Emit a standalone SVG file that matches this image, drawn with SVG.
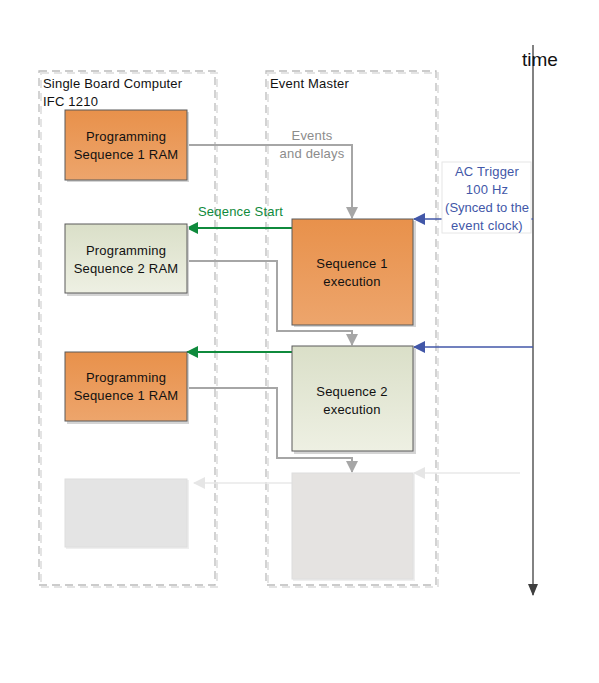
<svg xmlns="http://www.w3.org/2000/svg" width="599" height="683" viewBox="0 0 599 683">
<defs>
<linearGradient id="gOr" x1="0" y1="0" x2="0" y2="1"><stop offset="0" stop-color="#e8914b"/><stop offset="1" stop-color="#eda56c"/></linearGradient>
<linearGradient id="gGr" x1="0" y1="0" x2="0" y2="1"><stop offset="0" stop-color="#dadfc8"/><stop offset="1" stop-color="#eef0e3"/></linearGradient>
<marker id="aGray" markerWidth="12" markerHeight="12" refX="11" refY="6" orient="auto" markerUnits="userSpaceOnUse"><path d="M0,0 L12,6 L0,12 z" fill="#a6a6a6"/></marker>
<marker id="aGreen" markerWidth="12" markerHeight="12" refX="11" refY="6" orient="auto" markerUnits="userSpaceOnUse"><path d="M0,0 L12,6 L0,12 z" fill="#0f8a3c"/></marker>
<marker id="aBlue" markerWidth="12" markerHeight="12" refX="11" refY="6" orient="auto" markerUnits="userSpaceOnUse"><path d="M0,0 L12,6 L0,12 z" fill="#4257a8"/></marker>
<marker id="aLight" markerWidth="12" markerHeight="12" refX="11" refY="6" orient="auto" markerUnits="userSpaceOnUse"><path d="M0,0 L12,6 L0,12 z" fill="#e6e6e6"/></marker>
<marker id="aTime" markerWidth="12" markerHeight="10" refX="11" refY="5" orient="auto" markerUnits="userSpaceOnUse"><path d="M0,0 L12,5 L0,10 z" fill="#3f3f3f"/></marker>
</defs>
<style>
text{font-family:"Liberation Sans",Arial,sans-serif;font-size:13px;letter-spacing:0.2px;fill:#111}
.c{text-anchor:middle}
.cont{fill:none;stroke:#bcbcbc;stroke-width:1.3;stroke-dasharray:8,5}
.sh{fill:#d4d4d4}
.box{stroke:#5a5a5a;stroke-width:1}
.gl{fill:none;stroke:#a6a6a6;stroke-width:2}
.blue{fill:#4257a8}
</style>
<rect width="599" height="683" fill="#fff"/>

<g id="containers">
<rect x="41" y="73" width="176" height="514" fill="none" stroke="#e4e4e4" stroke-width="2" stroke-dasharray="8,5"/>
<rect x="39" y="71" width="176" height="514" class="cont"/>
<rect x="268" y="73" width="170" height="514" fill="none" stroke="#e4e4e4" stroke-width="2" stroke-dasharray="8,5"/>
<rect x="266" y="71" width="170" height="514" class="cont"/>
<text x="43" y="88">Single Board Computer</text>
<text x="43" y="106">IFC 1210</text>
<text x="270" y="88">Event Master</text>
</g>

<g id="time">
<line x1="533" y1="45" x2="533" y2="595" stroke="#3f3f3f" stroke-width="1.3" marker-end="url(#aTime)"/>
<text x="522" y="66" style="font-size:19px;letter-spacing:0">time</text>
</g>

<g id="connectors">
<polyline class="gl" points="187,145 352,145 352,218" marker-end="url(#aGray)"/>
<polyline class="gl" points="187,261 277,261 277,331 352,331 352,345" marker-end="url(#aGray)"/>
<polyline class="gl" points="187,388 277,388 277,458 352,458 352,472" marker-end="url(#aGray)"/>
<line x1="292" y1="228" x2="187" y2="228" stroke="#0f8a3c" stroke-width="2" marker-end="url(#aGreen)"/>
<line x1="292" y1="352" x2="187" y2="352" stroke="#0f8a3c" stroke-width="2" marker-end="url(#aGreen)"/>
<line x1="533" y1="219" x2="414" y2="219" stroke="#4257a8" stroke-width="1.5" marker-end="url(#aBlue)"/>
<line x1="533" y1="347" x2="414" y2="347" stroke="#4257a8" stroke-width="1.5" marker-end="url(#aBlue)"/>
<line x1="520" y1="473" x2="414" y2="473" stroke="#e8e8e8" stroke-width="1.5" marker-end="url(#aLight)"/>
<line x1="292" y1="483" x2="194" y2="483" stroke="#e8e8e8" stroke-width="1.5" marker-end="url(#aLight)"/>
<text x="312" y="140" class="c" style="fill:#8c8c8c">Events</text>
<text x="312" y="158" class="c" style="fill:#8c8c8c">and delays</text>
<text x="198" y="216" style="fill:#0f8a3c">Seqence Start</text>
<rect x="442" y="162" width="89" height="71" fill="#fff" stroke="#e6e6e6"/>
<text x="487" y="176" class="c blue">AC Trigger</text>
<text x="487" y="194" class="c blue">100 Hz</text>
<text x="487" y="212" class="c blue" style="letter-spacing:0">(Synced to the</text>
<text x="487" y="230" class="c blue">event clock)</text>
</g>

<g id="ram1">
<rect x="67" y="112" width="122" height="70" class="sh"/>
<rect x="65" y="110" width="122" height="70" fill="url(#gOr)" class="box"/>
<text x="126" y="141" class="c">Programming</text>
<text x="126" y="159" class="c">Sequence 1 RAM</text>
</g>
<g id="ram2">
<rect x="67" y="226" width="122" height="70" class="sh"/>
<rect x="65" y="224" width="122" height="69" fill="url(#gGr)" class="box"/>
<text x="126" y="255" class="c">Programming</text>
<text x="126" y="273" class="c">Sequence 2 RAM</text>
</g>
<g id="ram3">
<rect x="67" y="354" width="122" height="70" class="sh"/>
<rect x="65" y="352" width="122" height="69" fill="url(#gOr)" class="box"/>
<text x="126" y="382" class="c">Programming</text>
<text x="126" y="400" class="c">Sequence 1 RAM</text>
</g>
<g id="ram4">
<rect x="66" y="480" width="123" height="69" fill="#efefef"/>
<rect x="65" y="479" width="122" height="68" fill="#e4e4e4" stroke="#dedede"/>
</g>
<g id="exec1">
<rect x="294" y="221" width="122" height="106" class="sh"/>
<rect x="292" y="219" width="121" height="106" fill="url(#gOr)" class="box"/>
<text x="352" y="268" class="c">Sequence 1</text>
<text x="352" y="286" class="c">execution</text>
</g>
<g id="exec2">
<rect x="294" y="348" width="122" height="106" class="sh"/>
<rect x="292" y="346" width="121" height="105" fill="url(#gGr)" class="box"/>
<text x="352" y="396" class="c">Sequence 2</text>
<text x="352" y="414" class="c">execution</text>
</g>
<g id="exec3">
<rect x="293" y="474" width="122" height="107" fill="#efefef"/>
<rect x="292" y="473" width="121" height="106" fill="#e5e3e1" stroke="#dedede"/>
</g>
</svg>
